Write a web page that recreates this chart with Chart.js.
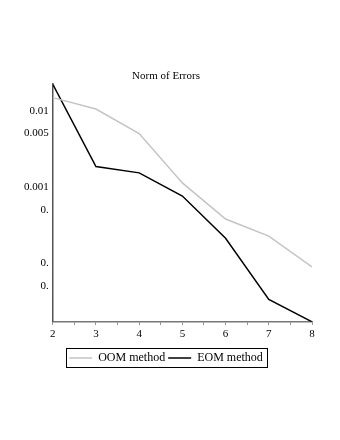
<!DOCTYPE html>
<html>
<head>
<meta charset="utf-8">
<script src="https://cdn.jsdelivr.net/npm/chart.js@4.4.1/dist/chart.umd.min.js"></script>
<style>
  html, body { margin: 0; padding: 0; background: #fff; }
  #wrap { width: 340px; height: 440px; }
</style>
</head>
<body>
<div id="wrap"><canvas id="errChart"></canvas></div>
<script>
// orders on the x axis
var orders = [2, 3, 4, 5, 6, 7, 8];
// error norms (log scale)
var oomErrors = [0.0148, 0.0105, 0.0050, 0.00113, 0.00038, 0.000227, 0.0000897];
var eomErrors = [0.0222, 0.00185, 0.00153, 0.00076, 0.000213, 0.0000336, 0.0000171];
// y ticks and their (truncated) labels as printed
var yTickValues = [0.01, 0.005, 0.001, 0.0005, 0.0001, 0.00005];
var yTickLabels = ["0.01", "0.005", "0.001", "0.", "0.", "0."];
var seriesNames = ["OOM method", "EOM method"];

function toPoints(xs, ys) {
  var pts = [];
  for (var i = 0; i < xs.length; i++) pts.push({ x: xs[i], y: ys[i] });
  return pts;
}

// box around the legend
var legendBorder = {
  id: 'legendBorder',
  afterDraw: function (chart) {
    var lg = chart.legend;
    if (!lg || !lg.legendHitBoxes || !lg.legendHitBoxes.length) return;
    var boxes = lg.legendHitBoxes;
    var l = Infinity, r = -Infinity, t = Infinity, b = -Infinity;
    for (var i = 0; i < boxes.length; i++) {
      l = Math.min(l, boxes[i].left);
      r = Math.max(r, boxes[i].left + boxes[i].width);
      t = Math.min(t, boxes[i].top);
      b = Math.max(b, boxes[i].top + boxes[i].height);
    }
    var ctx = chart.ctx;
    ctx.save();
    ctx.strokeStyle = '#000';
    ctx.lineWidth = 1;
    ctx.strokeRect(Math.round(l - 3) + 0.5, Math.round(t - 4) + 0.5, Math.round(r - l + 7), Math.round(b - t + 7));
    ctx.restore();
  }
};

var serif = "'Liberation Serif', 'DejaVu Serif', serif";

new Chart(document.getElementById('errChart').getContext('2d'), {
  type: 'line',
  data: {
    datasets: [
      {
        label: seriesNames[0],
        data: toPoints(orders, oomErrors),
        borderColor: '#c4c4c4',
        backgroundColor: '#c4c4c4',
        borderWidth: 1.5,
        pointRadius: 0,
        tension: 0
      },
      {
        label: seriesNames[1],
        data: toPoints(orders, eomErrors),
        borderColor: '#000',
        backgroundColor: '#000',
        borderWidth: 1.5,
        pointRadius: 0,
        tension: 0
      }
    ]
  },
  options: {
    responsive: true,
    maintainAspectRatio: false,
    animation: false,
    layout: { padding: { top: 70, left: 20, right: 28, bottom: 66 } },
    plugins: {
      title: {
        display: true,
        text: 'Norm of Errors',
        color: '#000',
        font: { family: serif, size: 11, weight: 'normal' },
        padding: { top: 0, bottom: 1 }
      },
      legend: {
        position: 'bottom',
        labels: {
          color: '#000',
          font: { family: serif, size: 12 },
          usePointStyle: true,
          pointStyle: 'line',
          pointStyleWidth: 23,
          boxWidth: 23,
          padding: 3
        }
      },
      tooltip: { enabled: false }
    },
    scales: {
      x: {
        type: 'linear',
        min: 2,
        max: 8,
        afterFit: function (axis) { axis.height += 5; },
        ticks: {
          stepSize: 0.5,
          color: '#000',
          font: { family: serif, size: 11 },
          padding: 3,
          maxRotation: 0,
          callback: function (v) { return Number.isInteger(v) ? String(v) : ''; }
        },
        grid: { drawOnChartArea: false, drawTicks: true, tickLength: 3, color: '#888' },
        border: { color: '#777', width: 1.5 }
      },
      y: {
        type: 'logarithmic',
        min: 0.0000171,
        max: 0.0222,
        afterBuildTicks: function (axis) {
          axis.ticks = yTickValues.map(function (v) { return { value: v }; });
        },
        ticks: {
          color: '#000',
          font: { family: serif, size: 11 },
          padding: 4,
          autoSkip: false,
          callback: function (v, i) { return yTickLabels[i]; }
        },
        grid: { drawOnChartArea: false, drawTicks: false },
        border: { color: '#555', width: 1.5 }
      }
    }
  },
  plugins: [legendBorder]
});
</script>
</body>
</html>
